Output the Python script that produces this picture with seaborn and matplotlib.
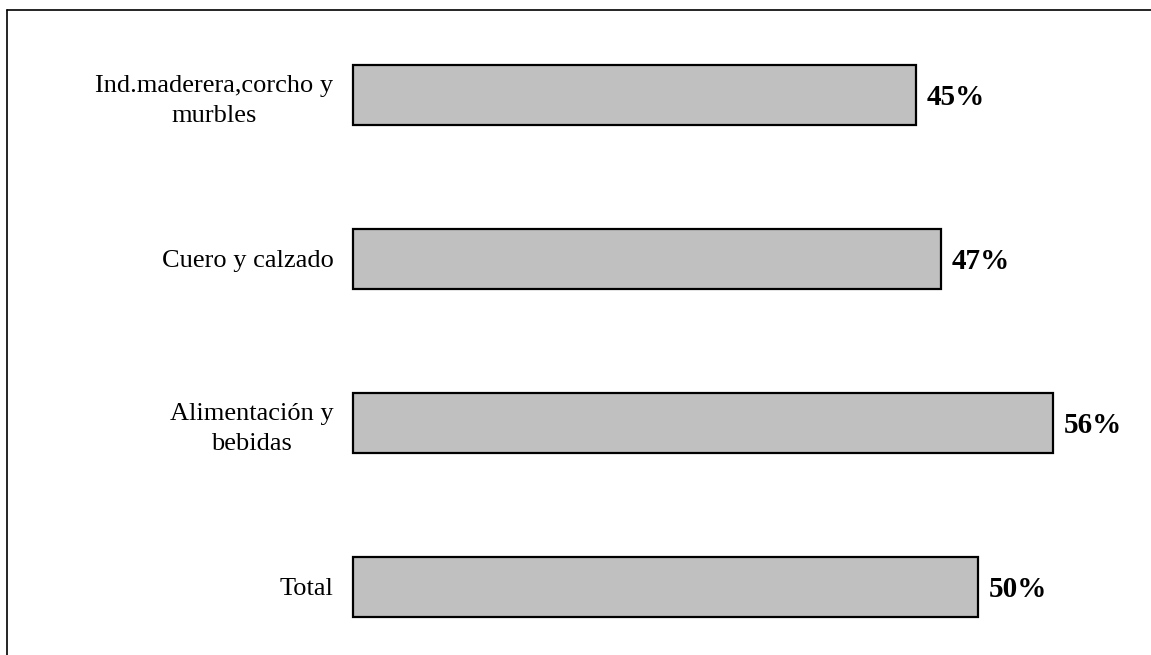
import numpy as np
import pandas as pd
import matplotlib.pyplot as plt
import seaborn as sns
from matplotlib.lines import Line2D


categories = ['Ind.maderera,corcho y\nmurbles', 'Cuero y calzado', 'Alimentación y\nbebidas', 'Total']
values = [45, 47, 56, 50]
value_labels = ['45%', '47%', '56%', '50%']

df = pd.DataFrame({'categoria': categories, 'valor': values})

sns.set_style('white')
plt.rcParams['font.family'] = ['Liberation Serif', 'DejaVu Serif']
plt.rcParams['text.color'] = 'black'
plt.rcParams['ytick.color'] = 'black'

W, H = 1151, 655
fig = plt.figure(figsize=(W / 100, H / 100), dpi=100)
x0 = 353
ax = fig.add_axes([x0 / W, 0, (W - x0) / W, 1])

sns.barplot(x='valor', y='categoria', data=df, orient='h', color='#c0c0c0',
            saturation=1, edgecolor='black', linewidth=1.6, width=0.366, ax=ax)
for p in ax.patches:
    p.set_clip_on(False)

# scale: 12.5 px per percentage point
ax.set_xlim(0, (W - x0) / 12.5)
ax.set_ylim((655 - 95) / 164, -95 / 164)

for i, (v, lab) in enumerate(zip(values, value_labels)):
    ax.annotate(lab, xy=(v, i), xytext=(8, -7.3), textcoords='offset points',
                ha='left', va='baseline', fontsize=21, fontweight='bold',
                color='black')

ax.set_xticks([])
ax.set_xlabel('')
ax.set_ylabel('')
ax.tick_params(axis='y', length=0, pad=14)
for t in ax.get_yticklabels():
    t.set_fontsize(19)
    t.set_color('black')
    t.set_multialignment('center')
    t.set_linespacing(1.45)
sns.despine(ax=ax, left=True, bottom=True)

# frame of the chart area (cut off at right and bottom)
fig.add_artist(Line2D([7 / W, 7 / W], [0, 1 - 10 / H], color='black', lw=1.2))
fig.add_artist(Line2D([7 / W, 1], [1 - 10 / H, 1 - 10 / H], color='black', lw=1.2))

fig.savefig('out.png', dpi=100)
